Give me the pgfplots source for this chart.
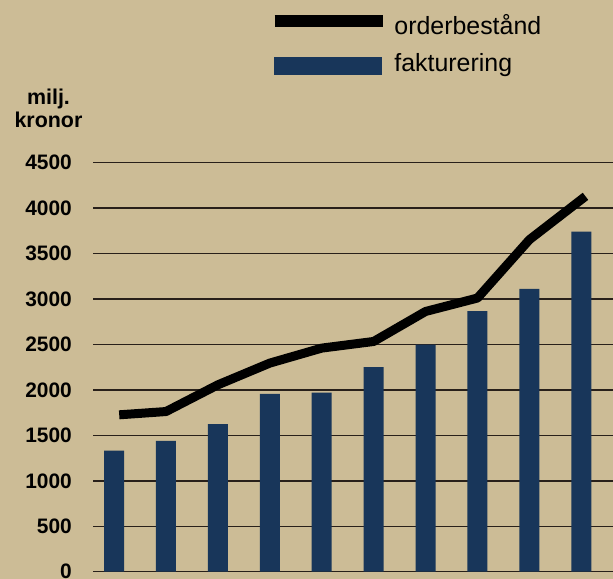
\documentclass[border=0pt]{standalone}
\usepackage{pgfplots}
\pgfplotsset{compat=1.18}
\usepackage{fontspec}
\setmainfont{Liberation Sans}
\definecolor{bg}{RGB}{204,188,150}
\definecolor{navy}{RGB}{24,54,90}
\definecolor{gridc}{RGB}{40,32,26}
\newcommand{\tl}[1]{{\fontsize{21}{21}\selectfont\bfseries #1}}
\begin{document}
\begin{tikzpicture}[x=1bp,y=1bp]
\path[use as bounding box] (0,0) rectangle (613,579);
\fill[bg] (0,0) rectangle (613,579);
\begin{axis}[
  at={(93bp,7.3bp)}, anchor=south west,
  scale only axis, width=520bp, height=409bp,
  xmin=-0.405, xmax=9.61, ymin=0, ymax=4500,
  axis line style={draw=none},
  xtick=\empty,
  ytick={0,500,...,4500},
  yticklabels={\tl{0},\tl{500},\tl{1000},\tl{1500},\tl{2000},\tl{2500},\tl{3000},\tl{3500},\tl{4000},\tl{4500}},
  ymajorgrids, grid style={gridc, line width=1.4bp},
  major tick length=0pt,
  yticklabel style={anchor=east, inner sep=0pt, xshift=-21bp},
  clip=false,
  legend style={at={(0.3378,1.368)}, anchor=north west, draw=none, fill=none, inner sep=0pt,
    font=\fontsize{25}{25}\selectfont, row sep=13.5bp, column sep=4bp},
  legend cell align=left,
]
\addlegendimage{legend image code/.code={\draw[line width=11.6bp, black] (0bp,4bp) -- (108bp,4bp);}}
\addlegendentry{orderbestånd}
\addlegendimage{legend image code/.code={\fill[navy] (0bp,-11.5bp) rectangle (107bp,6.2bp);}}
\addlegendentry{fakturering}
\addplot[ybar, bar width=20bp, fill=navy, draw=none, forget plot] coordinates {
  (0,1333) (1,1439) (2,1623) (3,1957) (4,1971) (5,2251) (6,2497) (7,2868) (8,3113) (9,3741)
};
\addplot[black, line width=9bp, line join=round, forget plot] coordinates {
  (0.1,1726) (1,1762) (2,2056) (3,2295) (4,2460) (5,2533) (6,2863) (7,3011) (8,3653) (9.08,4130)
};
\end{axis}
\node[anchor=base, font=\fontsize{21.5}{21.5}\selectfont\bfseries] at (48.5,474) {milj.};
\node[anchor=base, font=\fontsize{21.5}{21.5}\selectfont\bfseries] at (48.5,451) {kronor};
\end{tikzpicture}
\end{document}
